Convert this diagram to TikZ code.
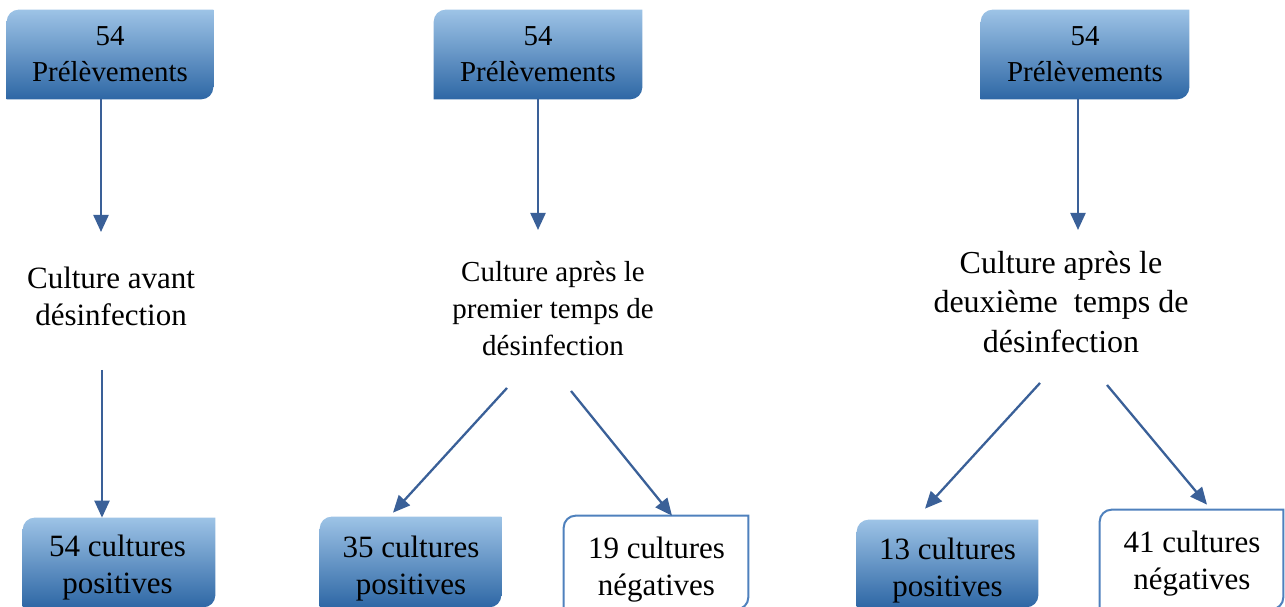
\documentclass[tikz,border=0pt]{standalone}
\usepackage{fontspec}
\setmainfont{Liberation Serif}
\usetikzlibrary{arrows.meta,calc,backgrounds}
\definecolor{arrowblue}{RGB}{58,96,152}
\definecolor{shtop}{RGB}{157,195,230}
\definecolor{shmid}{RGB}{95,157,214}
\definecolor{shbot}{RGB}{46,103,165}
\definecolor{frameblue}{RGB}{79,129,189}
\newcommand\diagshape[2]{%
  \path[#2] (#1.south west) -- ([yshift=-0.24cm]#1.north west)
    arc[start angle=180,end angle=90,radius=0.24cm] -- (#1.north east)
    -- ([yshift=0.24cm]#1.south east)
    arc[start angle=0,end angle=-90,radius=0.24cm] -- cycle;}
\begin{document}
\begin{tikzpicture}[x=0.02cm,y=0.02cm,
  topbox/.style={minimum width=4.16cm,minimum height=1.78cm,inner sep=0pt,align=center,
    font=\fontsize{16.45pt}{20.49pt}\selectfont},
  emptybox/.style={inner sep=0pt},
  boxtext/.style={align=center,inner sep=0pt,font=\fontsize{17.64pt}{21.06pt}\selectfont},
  shaded/.style={top color=shtop,middle color=shmid,bottom color=shbot},
  framed/.style={fill=white,draw=frameblue,line width=0.04cm},
  arr/.style={draw=arrowblue,line width=0.046cm,-{Triangle[length=0.34cm,width=0.30cm]}}]
\useasboundingbox (0,0) rectangle (1285,607);

% top boxes
\node[topbox,minimum width=4.12cm] (top1) at (110,552.5) {54\\Prélèvements};
\node[topbox] (top2) at (538,552.5) {54\\Prélèvements};
\node[topbox] (top3) at (1085,552.5) {54\\Prélèvements};

% bottom boxes
\node[emptybox,minimum width=3.84cm,minimum height=1.78cm] (bot1) at (119,44.5) {};
\node[emptybox,minimum width=3.62cm,minimum height=1.80cm] (bot2) at (410.5,45) {};
\node[emptybox,minimum width=3.68cm,minimum height=1.86cm] (bot3) at (656,44.5) {};
\node[emptybox,minimum width=3.62cm,minimum height=1.74cm] (bot4) at (947.5,43.5) {};
\node[emptybox,minimum width=3.66cm,minimum height=1.98cm] (bot5) at (1191.5,47.5) {};

\begin{pgfonlayer}{background}
  \diagshape{top1}{shaded}
  \diagshape{top2}{shaded}
  \diagshape{top3}{shaded}
  \diagshape{bot1}{shaded}
  \diagshape{bot2}{shaded}
  \diagshape{bot3}{framed}
  \diagshape{bot4}{shaded}
  \diagshape{bot5}{framed}
\end{pgfonlayer}

\node[boxtext] (lbl1) at (117.5,39) {54 cultures\\positives};
\node[boxtext] (lbl2) at (411,38.5) {35 cultures\\positives};
\node[boxtext] (lbl3) at (656.5,37) {19 cultures\\négatives};
\node[boxtext] (lbl4) at (947.5,36) {13 cultures\\positives};
\node[boxtext] (lbl5) at (1192,43) {41 cultures\\négatives};

% middle texts
\node[align=center,inner sep=0pt,font=\fontsize{17.64pt}{21.06pt}\selectfont] (t1) at (111,311)
  {Culture avant\\désinfection};
\node[align=center,inner sep=0pt,font=\fontsize{16.5pt}{21.06pt}\selectfont] (t2) at (553,298.5)
  {Culture après le\\premier temps de\\désinfection};
\node[align=center,inner sep=0pt,font=\fontsize{18.21pt}{22.48pt}\selectfont] (t3) at (1061,305)
  {Culture après le\\deuxième\ \ temps de\\désinfection};

% arrows, column 1
\coordinate (a1) at (101,375);
\coordinate (b1) at (102,237);
\draw[arr] (top1.south -| a1) -- (a1);
\draw[arr] (b1) -- (b1 |- bot1.north);

% column 2
\coordinate (a2) at (538,377);
\coordinate (c2) at (507,219);
\coordinate (d2) at (571,216);
\draw[arr] (top2.south -| a2) -- (a2);
\draw[arr] (c2) -- ($(bot2.north)+(-17.5,4)$);
\draw[arr] (d2) -- ($(bot3.north)+(16,0)$);

% column 3
\coordinate (a3) at (1078,377);
\coordinate (c3) at (1040,224);
\coordinate (d3) at (1107,222);
\draw[arr] (top3.south -| a3) -- (a3);
\draw[arr] (c3) -- ($(bot4.north)+(-22.5,11)$);
\draw[arr] (d3) -- ($(bot5.north)+(15.5,5)$);
\end{tikzpicture}
\end{document}
